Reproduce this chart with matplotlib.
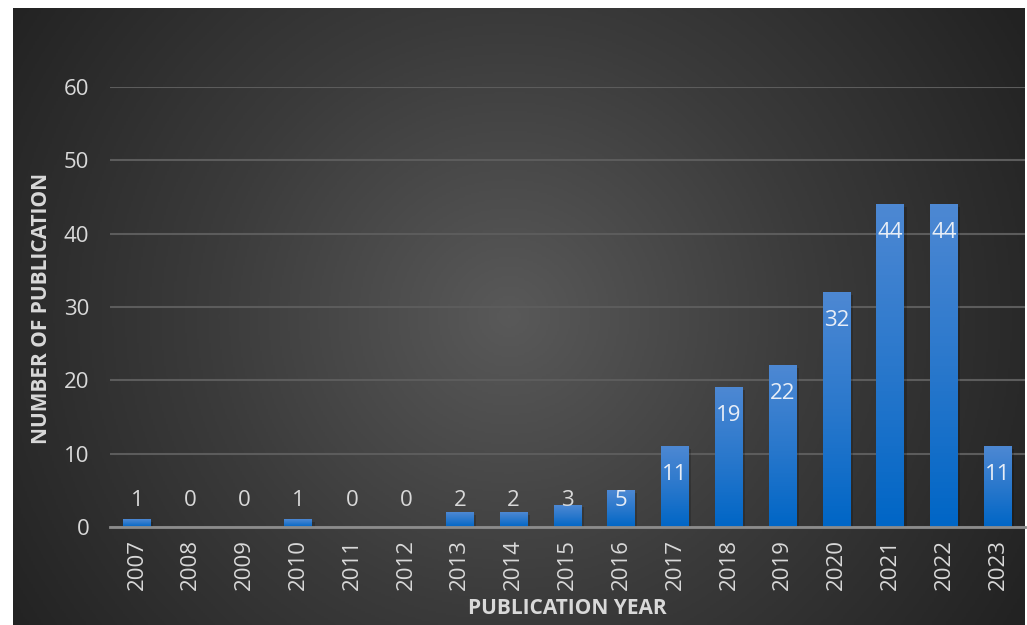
import numpy as np
import matplotlib
matplotlib.use("Agg")
import matplotlib.pyplot as plt
from matplotlib.colors import LinearSegmentedColormap

years = ["2007", "2008", "2009", "2010", "2011", "2012", "2013", "2014", "2015",
         "2016", "2017", "2018", "2019", "2020", "2021", "2022", "2023"]
counts = [1, 0, 0, 1, 0, 0, 2, 2, 3, 5, 11, 19, 22, 32, 44, 44, 11]

plt.rcParams['font.family'] = ['Open Sans', 'DejaVu Sans']
txt = '#d9d9d9'

fig = plt.figure(figsize=(10.27, 6.25), dpi=100)
fig.patch.set_facecolor('white')

# dark radial background
bg = fig.add_axes([13 / 1027, 0, 1012 / 1027, 617 / 625])
bg.axis('off')
yy, xx = np.mgrid[0:1:300j, 0:1:500j]
r = np.sqrt(((xx - 0.49) * 1.6) ** 2 + (yy - 0.5) ** 2)
r = np.clip(r / 0.95, 0, 1)
bg_cmap = LinearSegmentedColormap.from_list('bg', ['#595959', '#3b3b3b', '#222222'])
bg.imshow(r, cmap=bg_cmap, aspect='auto', extent=[0, 1, 0, 1], vmin=0, vmax=1)

ax = fig.add_axes([110 / 1027, 98 / 625, 915 / 1027, 440 / 625])
ax.patch.set_alpha(0)
x = np.arange(len(years))
w = 0.52

ax.set_yticks(range(0, 61, 10))
ax.yaxis.grid(True, color='#5c5c5c', linewidth=1.5)
ax.set_axisbelow(True)
for s in ['top', 'right', 'left']:
    ax.spines[s].set_visible(False)
ax.spines['bottom'].set_color('#8c8c8c')
ax.spines['bottom'].set_linewidth(2)
ax.spines['bottom'].set_zorder(5)
ax.tick_params(length=0, colors=txt, labelsize=16)
ax.tick_params(axis='y', pad=15)
ax.tick_params(axis='x', pad=9)
ax.set_xticks(x)
ax.set_xticklabels(years, rotation=90)

bar_cmap = LinearSegmentedColormap.from_list('bar', ['#0066c6', '#2a78cc', '#4d88d3'])
grad = np.linspace(0, 1, 100).reshape(-1, 1)
bars = ax.bar(x, counts, width=w, color='none', zorder=3)
for b, v in zip(bars, counts):
    if v <= 0:
        continue
    x0 = b.get_x()
    # shadow
    ax.bar(b.get_x() + w / 2 + 0.04, v, width=w, bottom=-0.3, color='black', alpha=0.18, zorder=2)
    ax.imshow(grad, cmap=bar_cmap, aspect='auto', origin='lower',
              extent=[x0, x0 + w, 0, v], zorder=3)

for xi, v in zip(x, counts):
    ypos = max(v - 3.8, 3.6)
    col = '#e8eef7' if v >= 5 else txt
    ax.text(xi, ypos, str(v), ha='center', va='center', color=col, fontsize=16, zorder=4)

ax.set_xlim(-0.5, len(years) - 0.5)
ax.set_ylim(0, 60)

fig.text(567 / 1027, 1 - 609 / 625, 'PUBLICATION YEAR', ha='center', va='center',
         color=txt, fontsize=15, fontweight='bold')
fig.text(42 / 1027, 1 - 308 / 625, 'NUMBER OF PUBLICATION', ha='center', va='center',
         rotation=90, color=txt, fontsize=15, fontweight='bold')

fig.savefig('out.png', dpi=100)
